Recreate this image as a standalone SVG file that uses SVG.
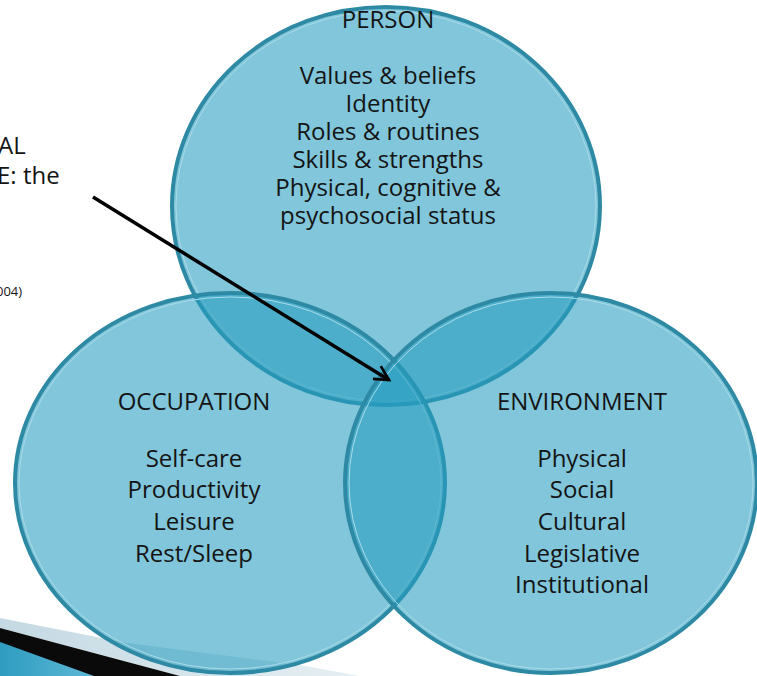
<svg xmlns="http://www.w3.org/2000/svg" width="757" height="676" viewBox="0 0 757 676">
<style>
.fill{fill:#269dbf;fill-opacity:0.58;stroke:#2e8aa4;stroke-width:4}
.inner{fill:none;stroke:#a9dbe8;stroke-width:1}
.t{font-family:"Open Sans","DejaVu Sans",sans-serif;font-size:24px;fill:#141414;text-anchor:middle}
.h{font-family:"Open Sans","DejaVu Sans",sans-serif;font-size:24px;fill:#141414;text-anchor:middle}
.l{font-family:"Open Sans","DejaVu Sans",sans-serif;fill:#141414}
</style>
<defs>
<linearGradient id="band" x1="0" y1="0" x2="1" y2="0">
<stop offset="0" stop-color="#2e9cc0"/><stop offset="1" stop-color="#5fb8d6"/>
</linearGradient>
<linearGradient id="light" x1="0" y1="0" x2="1" y2="0">
<stop offset="0" stop-color="#c4d9e3"/><stop offset="1" stop-color="#e6eff3"/>
</linearGradient>
<marker id="ah" viewBox="0 0 12 12" refX="10.5" refY="6" markerWidth="18" markerHeight="18" markerUnits="userSpaceOnUse" orient="auto">
<path d="M1,1 L10.5,6 L1,11" fill="none" stroke="#000" stroke-width="1.8"/>
</marker>
</defs>
<rect width="757" height="676" fill="#fff"/>
<g id="deco">
<polygon points="0,618 127,643 300,665 360,676 180,676 0,628" fill="url(#light)"/>
<polygon points="0,628 180,676 0,676" fill="#0a0a0a"/>
<polygon points="0,642 94,676 0,676" fill="url(#band)"/>
</g>
<g id="left-label">
<text class="l" x="-2" y="154" font-size="24">AL</text>
<text class="l" x="-3" y="184" font-size="24">E: the</text>
<text class="l" x="-4" y="296" font-size="13">004)</text>
</g>
<g id="person">
<ellipse class="fill" cx="386" cy="206" rx="214" ry="199"/>
<ellipse class="inner" cx="386" cy="206" rx="210" ry="195"/>
</g>
<g id="occupation">
<ellipse class="fill" cx="230" cy="483" rx="215" ry="190"/>
<ellipse class="inner" cx="230" cy="483" rx="211" ry="186"/>
</g>
<g id="environment">
<ellipse class="fill" cx="551" cy="483" rx="206" ry="190"/>
<ellipse class="inner" cx="551" cy="483" rx="202" ry="186"/>
</g>
<g id="labels">
<text class="h" x="388" y="28">PERSON</text>
<text class="t" x="388" y="84">Values &amp; beliefs</text>
<text class="t" x="388" y="112">Identity</text>
<text class="t" x="388" y="140">Roles &amp; routines</text>
<text class="t" x="388" y="168">Skills &amp; strengths</text>
<text class="t" x="388" y="196">Physical, cognitive &amp;</text>
<text class="t" x="388" y="224">psychosocial status</text>
<text class="h" x="194" y="410">OCCUPATION</text>
<text class="t" x="194" y="467">Self-care</text>
<text class="t" x="194" y="498">Productivity</text>
<text class="t" x="194" y="530">Leisure</text>
<text class="t" x="194" y="562">Rest/Sleep</text>
<text class="h" x="582" y="410">ENVIRONMENT</text>
<text class="t" x="582" y="467">Physical</text>
<text class="t" x="582" y="498">Social</text>
<text class="t" x="582" y="530">Cultural</text>
<text class="t" x="582" y="562">Legislative</text>
<text class="t" x="582" y="593">Institutional</text>
</g>
<g id="connectors">
<path d="M93,197 L389,380" fill="none" stroke="#000" stroke-width="3.5" marker-end="url(#ah)"/>
</g>
</svg>
